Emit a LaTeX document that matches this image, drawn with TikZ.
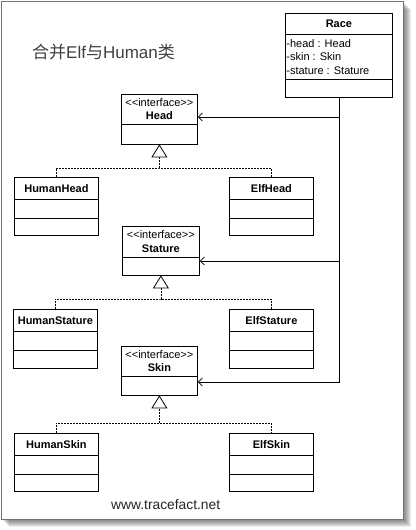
\documentclass[tikz,border=0pt]{standalone}
\usepackage{fontspec}
\setmainfont{Liberation Sans}
\newfontfamily\cjk{Noto Sans CJK SC}
\usetikzlibrary{arrows.meta,shapes.multipart}

% strut that centres one line of text in a compartment of the given height
\newcommand{\pstrut}[1]{\rule[\dimexpr 3.95pt-#1/2\relax]{0pt}{#1}}

\begin{document}
\begin{tikzpicture}[x=1pt, y=-1pt,
  cls/.style={draw, line width=0.8pt, rectangle split, rectangle split parts=3,
    inner xsep=1pt, inner ysep=0pt, minimum width=84pt, anchor=north west,
    font={\fontsize{11}{13.5}\selectfont\bfseries}},
  iface/.style={cls, rectangle split parts=2, minimum width=76pt},
  impl/.style={-{Triangle[length=13pt, width=16pt, fill=white]}, line width=0.8pt},
  realize/.style={line width=0.8pt, dash pattern=on 2pt off 1pt},
  assoc/.style={-{Straight Barb[length=4pt, width=8pt]}, line width=0.8pt}
]
  \useasboundingbox (0,0) rectangle (415,530);

  % sheet with shadow
  \foreach \s in {1,...,8}
    \fill[black, opacity=0.08] (1+\s,1+\s) rectangle (403+\s,519+\s);
  \filldraw[fill=white, draw=black!55, line width=1pt] (1,1) rectangle (403,519);

  \node[anchor=base west, inner sep=0pt, text=black!75, font=\fontsize{17}{20}\selectfont]
    (title) at (32,58) {{\cjk 合并}Elf{\cjk 与}Human{\cjk 类}};
  \node[anchor=base west, inner sep=0pt, text=black!85, font=\fontsize{13.8}{15}\selectfont]
    (site) at (111,509) {www.tracefact.net};

  % composite class
  \node[cls, minimum width=107pt] (Race) at (285,13) {\pstrut{20pt}Race
    \nodepart{two}\parbox[c][44pt][c]{105pt}{\mdseries -head : Head\\-skin : Skin\\-stature : Stature}
    \nodepart{three}\pstrut{18pt}};

  % interfaces
  \node[iface] (Head) at (121,94) {\parbox[c][29pt][c]{74pt}{\centering\mdseries <{}<interface>{}>\\\bfseries Head}
    \nodepart{two}\pstrut{19pt}};
  \node[iface, minimum width=77pt] (Stature) at (122,226) {\parbox[c][30pt][c]{75pt}{\centering\mdseries <{}<interface>{}>\\\bfseries Stature}
    \nodepart{two}\pstrut{17pt}};
  \node[iface] (Skin) at (121,346) {\parbox[c][29pt][c]{74pt}{\centering\mdseries <{}<interface>{}>\\\bfseries Skin}
    \nodepart{two}\pstrut{18pt}};

  % implementations
  \node[cls] (HumanHead) at (14,177) {\pstrut{21pt}HumanHead \nodepart{two}\pstrut{18pt} \nodepart{three}\pstrut{17pt}};
  \node[cls] (ElfHead) at (229,177) {\pstrut{21pt}ElfHead \nodepart{two}\pstrut{18pt} \nodepart{three}\pstrut{17pt}};
  \node[cls] (HumanStature) at (13,309) {\pstrut{21pt}HumanStature \nodepart{two}\pstrut{18pt} \nodepart{three}\pstrut{18pt}};
  \node[cls] (ElfStature) at (229,309) {\pstrut{21pt}ElfStature \nodepart{two}\pstrut{18pt} \nodepart{three}\pstrut{18pt}};
  \node[cls] (HumanSkin) at (14,433) {\pstrut{21pt}HumanSkin \nodepart{two}\pstrut{18pt} \nodepart{three}\pstrut{17pt}};
  \node[cls] (ElfSkin) at (229,433) {\pstrut{21pt}ElfSkin \nodepart{two}\pstrut{18pt} \nodepart{three}\pstrut{17pt}};

  % realization
  \coordinate (yHeadJoin) at (0,168);
  \coordinate (yStatureJoin) at (0,299);
  \coordinate (ySkinJoin) at (0,423);
  \coordinate (HeadJoin) at (Head.south |- yHeadJoin);
  \coordinate (StatureJoin) at (Stature.south |- yStatureJoin);
  \coordinate (SkinJoin) at (Skin.south |- ySkinJoin);
  \draw[realize] (HumanHead.north) |- (HeadJoin) -| (ElfHead.north);
  \draw[realize] (HumanStature.north) |- (StatureJoin) -| (ElfStature.north);
  \draw[realize] (HumanSkin.north) |- (SkinJoin) -| (ElfSkin.north);
  \draw[realize, impl] (HeadJoin) -- (Head.south);
  \draw[realize, impl] (StatureJoin) -- (Stature.south);
  \draw[realize, impl] (SkinJoin) -- (Skin.south);

  % association
  \coordinate (yHead) at (0,117);
  \coordinate (yStature) at (0,261);
  \coordinate (ySkin) at (0,382);
  \coordinate (busHead) at (Race.south |- yHead);
  \coordinate (busStature) at (Race.south |- yStature);
  \draw[assoc] (Race.south) |- (Skin.east |- ySkin);
  \draw[assoc] (busHead) -- (Head.east |- yHead);
  \draw[assoc] (busStature) -- (Stature.east |- yStature);
\end{tikzpicture}
\end{document}
